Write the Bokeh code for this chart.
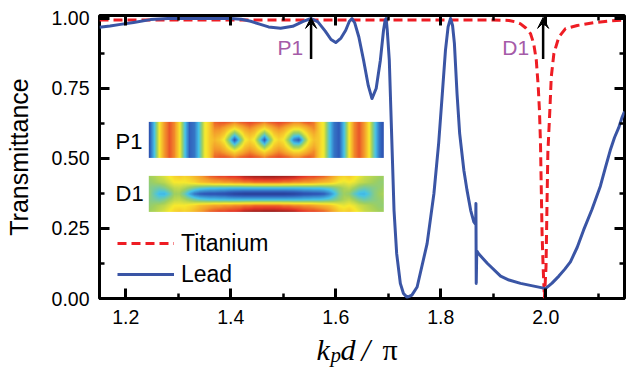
import numpy as np
from bokeh.plotting import figure
from bokeh.layouts import column
from bokeh.models import (Range1d, LinearAxis, SingleIntervalTicker, PrintfTickFormatter,
                          CustomJSTickFormatter, Legend, LegendItem, Label, Arrow, VeeHead,
                          LinearColorMapper)
from bokeh.embed import file_html
from bokeh.resources import INLINE

# ---------------- data ----------------
lead_kd = [1.150, 1.170, 1.190, 1.215, 1.247, 1.280, 1.400, 1.420, 1.438, 1.455,
           1.472, 1.495, 1.518, 1.538, 1.553, 1.566, 1.580, 1.591, 1.600, 1.610,
           1.619, 1.626, 1.631, 1.636, 1.644, 1.653, 1.662, 1.669, 1.677, 1.685,
           1.691, 1.694, 1.696, 1.698, 1.702, 1.705, 1.708, 1.711, 1.716, 1.723,
           1.729, 1.736, 1.745, 1.755, 1.774, 1.787, 1.796, 1.803, 1.809, 1.814,
           1.8186, 1.8225, 1.826, 1.831, 1.836, 1.844, 1.850, 1.857, 1.863, 1.8665,
           1.867, 1.8676, 1.8686, 1.873, 1.889, 1.914, 1.930, 1.952, 1.975, 1.996,
           2.000, 2.012, 2.025, 2.036, 2.047, 2.060, 2.072, 2.088, 2.104, 2.114,
           2.123, 2.131, 2.139, 2.145, 2.150]
lead_T = [0.969, 0.973, 0.979, 0.986, 0.996, 1.000, 1.000, 0.997, 0.990, 0.980,
          0.970, 0.965, 0.972, 0.990, 1.000, 0.988, 0.955, 0.925, 0.914, 0.930,
          0.958, 0.990, 1.000, 0.985, 0.934, 0.851, 0.760, 0.714, 0.750, 0.851,
          0.958, 0.993, 1.000, 0.960, 0.851, 0.672, 0.494, 0.315, 0.161, 0.054,
          0.018, 0.004, 0.012, 0.041, 0.196, 0.375, 0.554, 0.732, 0.887, 0.970,
          1.000, 0.975, 0.911, 0.732, 0.590, 0.458, 0.387, 0.315, 0.274, 0.265,
          0.339, 0.054, 0.170, 0.158, 0.125, 0.080, 0.066, 0.054, 0.045, 0.037,
          0.036, 0.055, 0.080, 0.104, 0.131, 0.183, 0.244, 0.318, 0.401, 0.470,
          0.530, 0.575, 0.610, 0.645, 0.668]

ti_kd = [1.150, 1.900, 1.930, 1.942, 1.952, 1.962, 1.971, 1.977, 1.982, 1.9857,
         1.988, 1.990, 1.9913, 1.993, 1.995, 1.9975, 2.0005, 2.0015, 2.0025, 2.004,
         2.006, 2.008, 2.0105, 2.0155, 2.025, 2.0376, 2.060, 2.0915, 2.120, 2.150]
ti_T = [0.995, 0.995, 0.993, 0.988, 0.981, 0.966, 0.946, 0.911, 0.851, 0.756,
        0.672, 0.554, 0.411, 0.232, 0.113, 0.000, 0.113, 0.232, 0.350, 0.520,
        0.600, 0.680, 0.791, 0.875, 0.934, 0.964, 0.975, 0.985, 0.991, 0.994]

mode_names = ["P1", "D1"]
mode_kd = [1.553, 1.995]

series_names = ["Titanium", "Lead"]

# inset field maps (coarse samples, 0 = blue ... 1 = dark red)
p1_left = [0.12, 0.35, 0.62, 0.78, 0.86, 0.80, 0.64, 0.38, 0.16, 0.20, 0.38, 0.60, 0.68]
p1_right = [0.68, 0.60, 0.38, 0.20, 0.15, 0.35, 0.62, 0.80, 0.86, 0.78, 0.62, 0.40, 0.20, 0.10]
p1_core0 = [0.84, 0.86, 0.86, 0.84, 0.80, 0.84, 0.86, 0.88, 0.86, 0.84, 0.80, 0.84, 0.86, 0.88, 0.86, 0.84, 0.80, 0.80, 0.84, 0.86, 0.82]
p1_core1 = [0.80, 0.80, 0.76, 0.70, 0.64, 0.70, 0.76, 0.80, 0.76, 0.70, 0.64, 0.70, 0.76, 0.80, 0.76, 0.70, 0.65, 0.65, 0.70, 0.76, 0.80]
p1_core2 = [0.76, 0.74, 0.68, 0.55, 0.42, 0.55, 0.68, 0.72, 0.68, 0.55, 0.42, 0.55, 0.68, 0.72, 0.68, 0.58, 0.45, 0.45, 0.58, 0.68, 0.74]
p1_core3 = [0.72, 0.68, 0.60, 0.40, 0.12, 0.38, 0.60, 0.66, 0.60, 0.38, 0.12, 0.38, 0.60, 0.66, 0.62, 0.45, 0.22, 0.14, 0.42, 0.62, 0.70]

d1_row0 = [0.50, 0.52, 0.55, 0.58, 0.62, 0.66, 0.68, 0.66, 0.68, 0.72, 0.76, 0.80,
           0.84, 0.86, 0.88, 0.88, 0.90, 0.90, 0.92, 0.95, 0.96, 0.97, 0.97, 0.98,
           0.98, 0.98, 0.97, 0.97, 0.96, 0.95, 0.92, 0.90, 0.88, 0.88, 0.86, 0.84,
           0.80, 0.74, 0.68, 0.66, 0.68, 0.64, 0.60, 0.56, 0.54, 0.52, 0.50, 0.50]
d1_row1 = [0.48, 0.50, 0.52, 0.54, 0.58, 0.62, 0.62, 0.62, 0.64, 0.66, 0.70, 0.72,
           0.74, 0.76, 0.76, 0.78, 0.78, 0.80, 0.80, 0.82, 0.82, 0.84, 0.84, 0.84,
           0.84, 0.84, 0.84, 0.82, 0.82, 0.80, 0.80, 0.78, 0.78, 0.76, 0.74, 0.72,
           0.70, 0.66, 0.62, 0.60, 0.62, 0.60, 0.56, 0.54, 0.52, 0.50, 0.48, 0.48]
d1_row2 = [0.46, 0.44, 0.42, 0.45, 0.50, 0.54, 0.55, 0.52, 0.48, 0.44, 0.40, 0.38,
           0.36, 0.36, 0.35, 0.35, 0.34, 0.34, 0.34, 0.34, 0.34, 0.34, 0.34, 0.34,
           0.34, 0.34, 0.34, 0.34, 0.34, 0.34, 0.34, 0.35, 0.35, 0.36, 0.36, 0.38,
           0.40, 0.44, 0.48, 0.52, 0.54, 0.50, 0.45, 0.42, 0.44, 0.46, 0.48, 0.50]
d1_row3 = [0.48, 0.40, 0.33, 0.32, 0.40, 0.50, 0.50, 0.42, 0.30, 0.20, 0.15, 0.13,
           0.12, 0.12, 0.11, 0.10, 0.08, 0.06, 0.05, 0.04, 0.04, 0.04, 0.04, 0.04,
           0.04, 0.04, 0.04, 0.04, 0.05, 0.06, 0.08, 0.10, 0.11, 0.12, 0.13, 0.15,
           0.22, 0.32, 0.44, 0.50, 0.48, 0.40, 0.33, 0.32, 0.38, 0.46, 0.50, 0.52]

# ---------------- styling ----------------
RED = "#EE1D24"
BLUE = "#3A55A5"
PURPLE = "#A55BA8"
SANS = "Liberation Sans"
SERIF = "Liberation Serif"

jet_stops = [0.0, 0.15, 0.35, 0.50, 0.62, 0.78, 0.90, 1.0]
jet_rgb = [(38, 52, 140), (48, 92, 186), (70, 196, 234), (160, 208, 96),
           (248, 234, 46), (244, 154, 44), (230, 56, 40), (140, 26, 28)]


def make_palette(n=256):
    t = np.linspace(0, 1, n)
    arr = np.array(jet_rgb, dtype=float)
    cols = []
    for v in t:
        r = np.interp(v, jet_stops, arr[:, 0])
        g = np.interp(v, jet_stops, arr[:, 1])
        b = np.interp(v, jet_stops, arr[:, 2])
        cols.append("#%02x%02x%02x" % (int(r), int(g), int(b)))
    return cols


def smooth_image(rows, nx, ny):
    a = np.array(rows, dtype=float)
    nr, nc = a.shape
    xs = np.linspace(0, nc - 1, nx)
    ys = np.linspace(0, nr - 1, ny)
    tmp = np.array([np.interp(xs, np.arange(nc), r) for r in a])
    out = np.array([np.interp(ys, np.arange(nr), tmp[:, j]) for j in range(nx)]).T
    return out


p1_rows = [p1_left + c + p1_right for c in (p1_core0, p1_core1, p1_core2, p1_core3,
                                            p1_core2, p1_core1, p1_core0)]
d1_rows = [d1_row0, d1_row1, d1_row2, d1_row3, d1_row2, d1_row1, d1_row0]

W = 630
H_MAIN = 332
H_XLAB = 36
FRAME_L, FRAME_R = 99, 624

p = figure(width=W, height=H_MAIN, output_backend="svg", toolbar_location=None,
           x_range=Range1d(1.15, 2.15), y_range=Range1d(0, 1.0107),
           min_border_left=FRAME_L, min_border_right=W - FRAME_R, min_border_top=15,
           min_border_bottom=H_MAIN - 298,
           background_fill_color="white", border_fill_color="white")
p.grid.visible = False
p.outline_line_color = "black"
p.outline_line_width = 3
p.outline_line_alpha = 1.0

x_ticker = SingleIntervalTicker(interval=0.2, num_minor_ticks=2)
y_ticker = SingleIntervalTicker(interval=0.25, num_minor_ticks=2)


def style_axis(ax):
    ax.axis_line_color = None
    ax.major_tick_in = 10
    ax.major_tick_out = 0
    ax.minor_tick_in = 5
    ax.minor_tick_out = 0
    ax.major_tick_line_width = 3
    ax.minor_tick_line_width = 2.5
    ax.major_tick_line_color = "black"
    ax.minor_tick_line_color = "black"


xa = p.xaxis[0]
ya = p.yaxis[0]
xa.ticker = x_ticker
ya.ticker = y_ticker
xa.formatter = PrintfTickFormatter(format="%.1f")
ya.formatter = PrintfTickFormatter(format="%.2f")
for ax in (xa, ya):
    style_axis(ax)
    ax.major_label_text_font = SANS
    ax.major_label_text_font_size = "19.5px"
    ax.major_label_text_color = "black"
xa.major_label_standoff = 11
ya.major_label_standoff = 10
ya.axis_label = "Transmittance"
ya.axis_label_text_font = SANS
ya.axis_label_text_font_size = "25px"
ya.axis_label_text_font_style = "normal"
ya.axis_label_text_color = "black"
ya.axis_label_standoff = 16

blank = CustomJSTickFormatter(code="return ''")
top = LinearAxis(ticker=x_ticker, formatter=blank, major_label_text_font_size="1px",
                 major_label_standoff=0)
right = LinearAxis(ticker=y_ticker, formatter=blank, major_label_text_font_size="1px",
                   major_label_standoff=0)
style_axis(top)
style_axis(right)
p.add_layout(top, "above")
p.add_layout(right, "right")

# insets
mapper = LinearColorMapper(palette=make_palette(), low=0.0, high=1.0)
p.image(image=[smooth_image(p1_rows, 236, 36)], x=1.2439, y=0.5021, dw=0.4476, dh=0.1286,
        color_mapper=mapper)
p.image(image=[smooth_image(d1_rows, 236, 36)], x=1.2439, y=0.3093, dw=0.4476, dh=0.1286,
        color_mapper=mapper)
p.add_layout(Label(x=1.1805, y=0.561, text="P1", text_font=SANS, text_font_size="22px",
                   text_color="black", text_baseline="middle", text_align="left"))
p.add_layout(Label(x=1.1805, y=0.376, text="D1", text_font=SANS, text_font_size="22px",
                   text_color="black", text_baseline="middle", text_align="left"))

# curves
r_ti = p.line(ti_kd, ti_T, line_color=RED, line_width=3, line_dash="9 5")
r_lead = p.line(lead_kd, lead_T, line_color=BLUE, line_width=3, line_join="round")

# arrows and mode labels
label_offsets = {"P1": -8, "D1": -14}
for name, kd in zip(mode_names, mode_kd):
    p.add_layout(Arrow(end=VeeHead(size=11, fill_color="black", line_color="black"),
                       x_start=kd, y_start=0.855, x_end=kd, y_end=1.004,
                       line_color="black", line_width=2.5))
    p.add_layout(Label(x=kd, y=0.895, x_offset=label_offsets[name], text=name,
                       text_font=SANS, text_font_size="21px", text_color=PURPLE,
                       text_align="right", text_baseline="middle"))

legend = Legend(items=[LegendItem(label=series_names[0], renderers=[r_ti]),
                       LegendItem(label=series_names[1], renderers=[r_lead])],
                location=(18, 9), glyph_width=57, glyph_height=30, label_height=30,
                spacing=1, padding=0, margin=0, label_standoff=7,
                label_text_font=SANS, label_text_font_size="23px", label_text_color="black",
                border_line_color=None, background_fill_alpha=0)
p.add_layout(legend)

# x-axis label strip:  k_p d / pi
# (its frame lines up with the main frame: x = page pixels, y = pixels below strip top)
q = figure(width=W, height=H_XLAB, output_backend="svg", toolbar_location=None,
           x_range=Range1d(FRAME_L, FRAME_R), y_range=Range1d(H_XLAB, 0),
           x_axis_location=None, y_axis_location=None,
           min_border_left=0, min_border_right=0, min_border_top=0, min_border_bottom=0,
           outline_line_color=None, background_fill_color="white", border_fill_color="white")
q.grid.visible = False
xl = [("k", 316, 16.5, "30px", "italic"), ("p", 330, 22.6, "21px", "italic"),
      ("d", 340, 16.5, "30px", "italic"), ("/", 361, 18.2, "31px", "italic"),
      ("\u03c0", 382, 16.5, "30px", "normal")]
for t, sx, sy, fs, st in xl:
    q.add_layout(Label(x=sx, y=sy, text=t, text_font=SERIF, text_font_size=fs,
                       text_font_style=st, text_color="black", text_align="left",
                       text_baseline="middle"))

layout = column(p, q, spacing=0)
open("out.html", "w").write(file_html(layout, INLINE))
